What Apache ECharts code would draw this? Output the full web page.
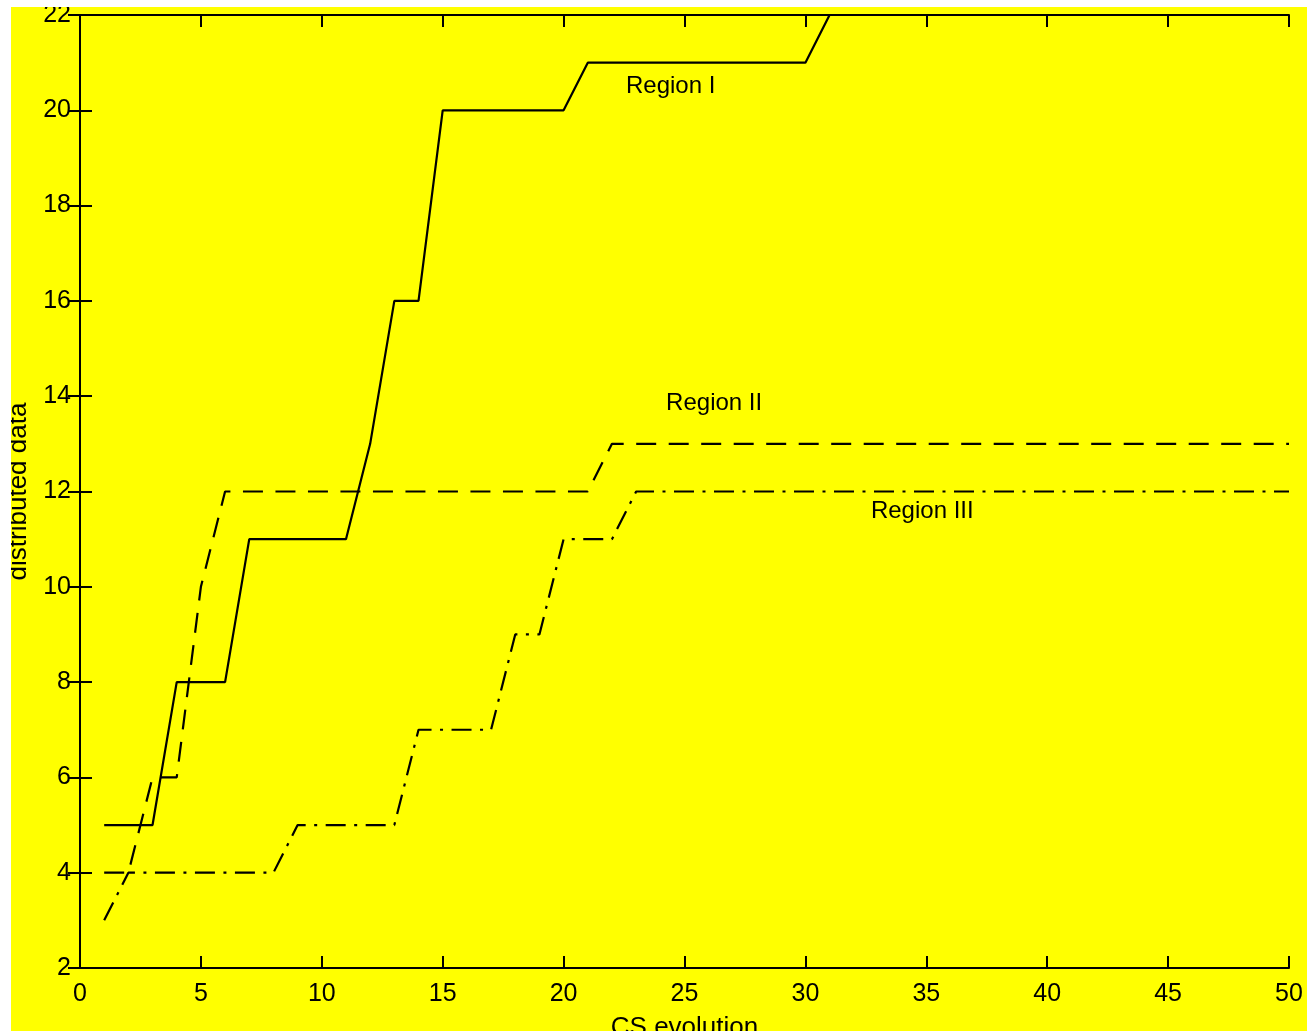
<!DOCTYPE html>
<html>
<head>
<meta charset="utf-8">
<title>distributed data vs CS evolution</title>
<script src="https://cdn.jsdelivr.net/npm/echarts@6/dist/echarts.min.js"></script>
<style>
  html, body { margin: 0; padding: 0; background: #ffffff; width: 1307px; height: 1034px; overflow: hidden; }
  #chart { position: absolute; left: 11px; top: 7px; width: 1296px; height: 1024px; }
</style>
</head>
<body>
<div id="chart"></div>
<script>
// CS evolution steps (x) for each region
const regionIx   = [1,2,3,4,5,6,7,8,9,10,11,12,13,14,15,16,17,18,19,20,21,22,23,24,25,26,27,28,29,30,31];
const regionIy   = [5,5,5,8,8,8,11,11,11,11,11,13,16,16,20,20,20,20,20,20,21,21,21,21,21,21,21,21,21,21,22];

const regionIIx  = [1,2,3,4,5,6,7,8,9,10,11,12,13,14,15,16,17,18,19,20,21,22,23,24,25,26,27,28,29,30,
                    31,32,33,34,35,36,37,38,39,40,41,42,43,44,45,46,47,48,49,50];
const regionIIy  = [4,4,6,6,10,12,12,12,12,12,12,12,12,12,12,12,12,12,12,12,12,13,13,13,13,13,13,13,13,13,
                    13,13,13,13,13,13,13,13,13,13,13,13,13,13,13,13,13,13,13,13];

const regionIIIx = [1,2,3,4,5,6,7,8,9,10,11,12,13,14,15,16,17,18,19,20,21,22,23,24,25,26,27,28,29,30,
                    31,32,33,34,35,36,37,38,39,40,41,42,43,44,45,46,47,48,49,50];
const regionIIIy = [3,4,4,4,4,4,4,4,5,5,5,5,5,7,7,7,7,9,9,11,11,11,12,12,12,12,12,12,12,12,
                    12,12,12,12,12,12,12,12,12,12,12,12,12,12,12,12,12,12,12,12];

// axis tick values
const xTicks = [0,5,10,15,20,25,30,35,40,45,50];
const yTicks = [2,4,6,8,10,12,14,16,18,20,22];

// text annotations: label, x, y (data coordinates of the text's left-middle point)
const labelNames = ['Region I', 'Region II', 'Region III'];
const labelX = [22.58, 24.24, 32.71];
const labelY = [20.5, 13.85, 11.58];

const pairs = (xs, ys) => xs.map((x, i) => [x, ys[i]]);

const FONT = '"Liberation Sans", Arial, Helvetica, sans-serif';
const tickStyle = { show: true, inside: true, length: 12, lineStyle: { color: '#000', width: 2 } };
const lineAxis = { show: true, lineStyle: { color: '#000', width: 2 } };

const xMin = xTicks[0], xMax = xTicks[xTicks.length - 1], xStep = xTicks[1] - xTicks[0];
const yMin = yTicks[0], yMax = yTicks[yTicks.length - 1], yStep = yTicks[1] - yTicks[0];

const chart = echarts.init(document.getElementById('chart'), null, { renderer: 'canvas' });
chart.setOption({
  animation: false,
  backgroundColor: '#ffff00',
  grid: { left: 69, top: 8, right: 18, bottom: 63, containLabel: false, outerBoundsMode: 'none' },
  xAxis: [
    {
      type: 'value', position: 'bottom', min: xMin, max: xMax, interval: xStep,
      name: 'CS evolution', nameLocation: 'middle', nameGap: 47,
      nameTextStyle: { color: '#000', fontFamily: FONT, fontSize: 26 },
      axisLine: lineAxis, axisTick: tickStyle, splitLine: { show: false },
      axisLabel: { color: '#000', fontFamily: FONT, fontSize: 25, margin: 14 }
    },
    {
      type: 'value', position: 'top', min: xMin, max: xMax, interval: xStep,
      axisLine: lineAxis, axisTick: tickStyle, splitLine: { show: false },
      axisLabel: { show: false }
    }
  ],
  yAxis: [
    {
      type: 'value', position: 'left', min: yMin, max: yMax, interval: yStep,
      name: 'distributed data', nameLocation: 'middle', nameGap: 40,
      nameTextStyle: { color: '#000', fontFamily: FONT, fontSize: 26 },
      axisLine: lineAxis, axisTick: tickStyle, splitLine: { show: false },
      axisLabel: { color: '#000', fontFamily: FONT, fontSize: 25, margin: 9 }
    },
    {
      type: 'value', position: 'right', min: yMin, max: yMax, interval: yStep,
      axisLine: lineAxis, axisTick: tickStyle, splitLine: { show: false },
      axisLabel: { show: false }
    }
  ],
  series: [
    {
      name: 'Region I', type: 'line', data: pairs(regionIx, regionIy),
      showSymbol: false, clip: true,
      lineStyle: { color: '#000', width: 2.2, type: 'solid' }
    },
    {
      name: 'Region II', type: 'line', data: pairs(regionIIx, regionIIy),
      showSymbol: false, clip: true,
      lineStyle: { color: '#000', width: 2.2, type: [20, 12.5] }
    },
    {
      name: 'Region III', type: 'line', data: pairs(regionIIIx, regionIIIy),
      showSymbol: false, clip: true,
      lineStyle: { color: '#000', width: 2.2, type: [20, 8.5, 3, 8.5] }
    },
    {
      name: 'labels', type: 'scatter', symbolSize: 0, silent: true,
      itemStyle: { opacity: 1 },
      data: labelNames.map((n, i) => ({ name: n, value: [labelX[i], labelY[i]] })),
      label: {
        show: true, position: 'right', distance: 0,
        formatter: p => p.name,
        color: '#000', textBorderWidth: 0, fontFamily: FONT, fontSize: 24
      }
    }
  ]
});
</script>
</body>
</html>
